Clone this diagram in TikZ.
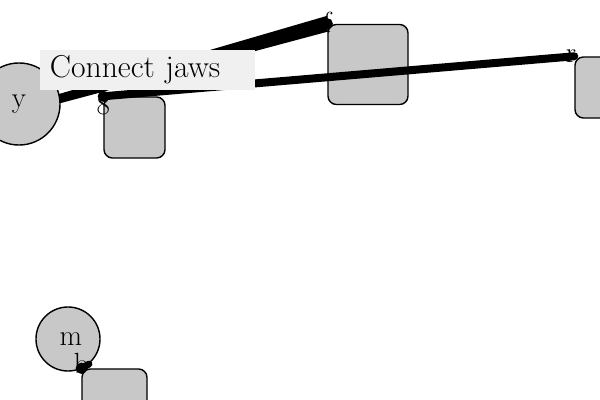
\documentclass[tikz,border=0pt]{standalone}
\usepackage{tikz}
\usetikzlibrary{positioning,calc}
\definecolor{partgray}{RGB}{200,200,200}
\definecolor{notegray}{RGB}{240,240,240}

\begin{document}
\begin{tikzpicture}[x=0.025cm,y=-0.025cm,
	joint/.style={circle,draw,line width=1pt,fill=partgray,inner sep=0pt,font=\huge},
	part/.style={rectangle,rounded corners=6pt,draw,line width=1pt,fill=partgray,inner sep=0pt},
	tag/.style={inner sep=0pt,font=\huge},
	link/.style={line width=#1,line cap=round},
	pin/.style={circle,fill=black,inner sep=0pt,minimum size=8pt}]
	   \useasboundingbox (0,0) rectangle (600,400);
	   \node[joint,minimum size=2.05cm] (y) at (19,104) {\raisebox{-0.9ex}{y}};
	   \node[joint,minimum size=1.6cm] (m) at (68,339) {\hspace{4pt}m};
	   \node[part,minimum size=1.525cm] (p_8) at (134.5,127.5) {};
	   \node[part,minimum size=2cm] (p_f) at (368,64.5) {};
	   \node[part,minimum size=1.525cm] (p_r) at (605.5,87.5) {};
	   \node[part,minimum size=1.625cm] (p_b) at (114.5,401.5) {};
	   % thick links between the parts (the jaw link widens towards f)
	   \fill ($(y.8)+(-2,-4)$) -- ($(p_f.north west)+(0,-8)$)
	         -- ($(p_f.north west)+(0,8)$) -- ($(y.8)+(0,5)$) -- cycle;
	   \draw[link=0.2cm] (p_8.north west) -- (p_r.north west);
	   \draw[link=0.17cm] (m.-50) -- (p_b.north west);
	   \node[pin] at (p_8.north west) {};
	   \node[pin] at (p_f.north west) {};
	   \node[pin] at (p_b.north west) {};
	   \node[tag] at ([yshift=-0.22cm]p_8.north west) {8};
	   \node[tag] at ([yshift=0.05cm]p_f.north west) {f};
	   \node[tag] at ([xshift=-0.08cm]p_r.north west) {r};
	   \node[tag] at ([yshift=0.12cm]p_b.north west) {b};
	   \node[fill=notegray,inner xsep=0.25cm,inner ysep=0pt,text width=4.875cm,
	         minimum height=1cm,align=left,font=\fontsize{22.5}{27}\selectfont] (note) at (147.5,70) {Connect jaws};
\end{tikzpicture}
\end{document}
